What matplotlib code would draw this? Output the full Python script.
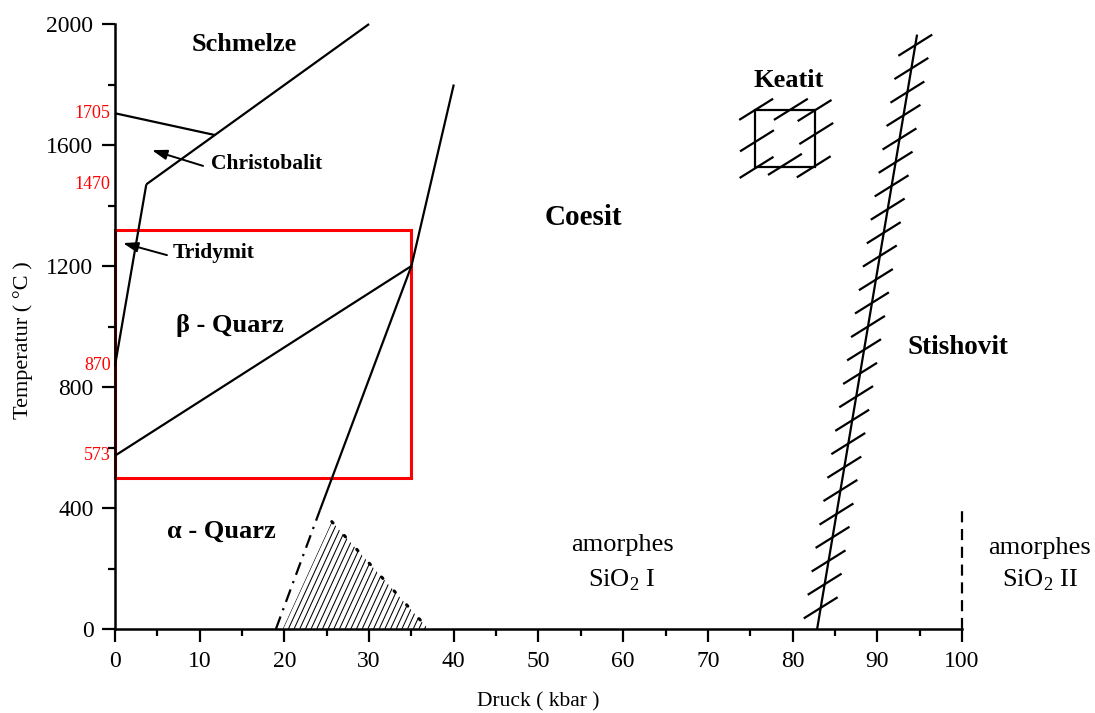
import numpy as np
import matplotlib.pyplot as plt
from matplotlib.patches import Rectangle, Polygon
from matplotlib.collections import LineCollection

plt.rcParams['font.family'] = ['Liberation Serif', 'DejaVu Serif']
plt.rcParams['mathtext.fontset'] = 'custom'
plt.rcParams['mathtext.rm'] = 'Liberation Serif'

# Phasengrenzen SiO2 (Druck in kbar, Temperatur in °C)
melt_p = [3.7, 30.0]
melt_t = [1470, 2000]
crist_p = [0.0, 11.8]
crist_t = [1705, 1633]
trid_p = [0.0, 3.7]
trid_t = [870, 1470]
quarz_p = [0.0, 35.0]
quarz_t = [573, 1200]
coes_p = [19.0, 24.2, 35.0, 40.0]
coes_t = [0, 393, 1200, 1800]
stish_p = [82.9, 94.7]
stish_t = [0, 1965]
amorph_p = [100, 100]
amorph_t = [0, 400]

# Keatit-Feld und schraffiertes Dreieck
keat_p = [75.6, 82.6]
keat_t = [1528, 1716]
keat_tick_p = [75.7, 79.8, 82.6, 75.8, 82.8, 75.75, 79.1, 82.5]
keat_tick_t = [1718, 1718, 1714, 1614, 1638, 1526, 1536, 1528]
stish_tick_t = [70, 148, 225, 303, 380, 458, 535, 613, 690, 768, 845, 923,
                1000, 1078, 1155, 1233, 1310, 1388, 1465, 1543, 1620, 1698,
                1775, 1853, 1930]
tri_p = [19.8, 25.6, 37.0]
tri_t = [0, 355, 0]

# roter Rahmen
frame_p = [0, 35]
frame_t = [500, 1320]

red_labels = [1705, 1470, 870, 573]

fig = plt.figure(figsize=(10.95, 7.13), dpi=100)
ax = fig.add_axes([0.105, 0.1178, 0.7735, 0.8485])
ax.set_xlim(0, 100)
ax.set_ylim(0, 2000)

lw = 1.6
kw = dict(color='k', lw=lw, clip_on=False, solid_capstyle='butt')
ax.plot(melt_p, melt_t, **kw)
ax.plot(crist_p, crist_t, **kw)
ax.plot(trid_p, trid_t, **kw)
ax.plot(quarz_p, quarz_t, **kw)
ax.plot(coes_p[1:], coes_t[1:], **kw)
ax.plot(coes_p[:2], coes_t[:2], color='k', lw=lw, clip_on=False,
        linestyle=(0, (6, 3, 1, 3)))
ax.plot(stish_p, stish_t, **kw)
ax.plot(amorph_p, amorph_t, color='k', lw=lw, clip_on=False,
        linestyle=(0, (5, 3)))

# Schraffur unter der Quarz/Coesit-Grenze
tri = Polygon(list(zip(tri_p, tri_t)), closed=True, fc='none', ec='none')
ax.add_patch(tri)
hatch = []
for x0 in np.arange(tri_p[0], tri_p[2], 0.67):
    hatch.append([(x0, 0), (x0 + 400 / 61.0, 400)])
hc = LineCollection(hatch, colors='k', linewidths=0.75)
ax.add_collection(hc)
hc.set_clip_path(tri)
ax.plot(tri_p[1:], tri_t[1:], color='k', lw=2.2, linestyle=(0, (0.6, 5.5)),
        dash_capstyle='round')

# Stishovit-Grenze mit Strichmarken
sp = np.interp(stish_tick_t, stish_t, stish_p)
dp, dt = 2.0, 35
ticks = [[(p - dp, t - dt), (p + dp, t + dt)] for p, t in zip(sp, stish_tick_t)]
ax.add_collection(LineCollection(ticks, colors='k', linewidths=lw))

# Keatit
ax.add_patch(Rectangle((keat_p[0], keat_t[0]), keat_p[1] - keat_p[0],
                       keat_t[1] - keat_t[0], fc='none', ec='k', lw=lw))
kticks = [[(p - dp, t - dt), (p + dp, t + dt)]
          for p, t in zip(keat_tick_p, keat_tick_t)]
ax.add_collection(LineCollection(kticks, colors='k', linewidths=lw))

ax.add_patch(Rectangle((frame_p[0], frame_t[0]), frame_p[1] - frame_p[0],
                       frame_t[1] - frame_t[0], fc='none', ec='red', lw=2.2,
                       clip_on=False))

# Beschriftung
bold = dict(fontsize=19, fontweight='bold', ha='center', va='center')
ax.text(15.3, 1932, 'Schmelze', **bold)
ax.text(55.3, 1362, 'Coesit', **dict(bold, fontsize=21))
ax.text(79.5, 1812, 'Keatit', **bold)
ax.text(13.6, 1005, 'β - Quarz', **bold)
ax.text(12.6, 324, 'α - Quarz', **bold)
ax.text(99.5, 929, 'Stishovit', **dict(bold, fontsize=19.5))

arrow = dict(arrowstyle='-|>,head_length=0.9,head_width=0.3', color='k',
             lw=1.4, shrinkA=0, shrinkB=0)
ax.annotate('', xy=(4.37, 1583), xytext=(10.4, 1531), arrowprops=arrow)
ax.text(11.3, 1537, 'Christobalit', fontsize=15.5, fontweight='bold',
        va='center')
ax.annotate('', xy=(0.94, 1276), xytext=(6.14, 1236), arrowprops=arrow)
ax.text(6.85, 1243, 'Tridymit', fontsize=15.5, fontweight='bold', va='center')

ax.text(59.9, 278, 'amorphes', fontsize=19, ha='center', va='center')
ax.text(59.9, 162, r'SiO$_{\mathregular{2}}$ I', fontsize=19, ha='center',
        va='center')
ax.text(109.2, 268, 'amorphes', fontsize=19, ha='center', va='center',
        clip_on=False)
ax.text(109.2, 162, r'SiO$_{\mathregular{2}}$ II', fontsize=19, ha='center',
        va='center', clip_on=False)

for v in red_labels:
    ax.text(-0.5, v, str(v), color='red', fontsize=13, ha='right',
            va='center')

# Achsen
for s in ['top', 'right']:
    ax.spines[s].set_visible(False)
for s in ['left', 'bottom']:
    ax.spines[s].set_linewidth(1.8)
ax.set_xticks(np.arange(0, 101, 10))
ax.set_xticks(np.arange(0, 101, 5), minor=True)
ax.set_yticks(np.arange(0, 2001, 400))
ax.set_yticks(np.arange(0, 2001, 200), minor=True)
ax.tick_params(which='major', direction='out', length=9.5, width=1.6,
               labelsize=17, pad=6)
ax.tick_params(which='minor', direction='out', length=5, width=1.6)
ax.set_xlabel('Druck ( kbar )', fontsize=15.5)
ax.set_ylabel('Temperatur ( °C )', fontsize=16)
ax.xaxis.set_label_coords(0.5, -0.104)
ax.yaxis.set_label_coords(-0.097, 0.477)

fig.savefig('out.png', dpi=100)
